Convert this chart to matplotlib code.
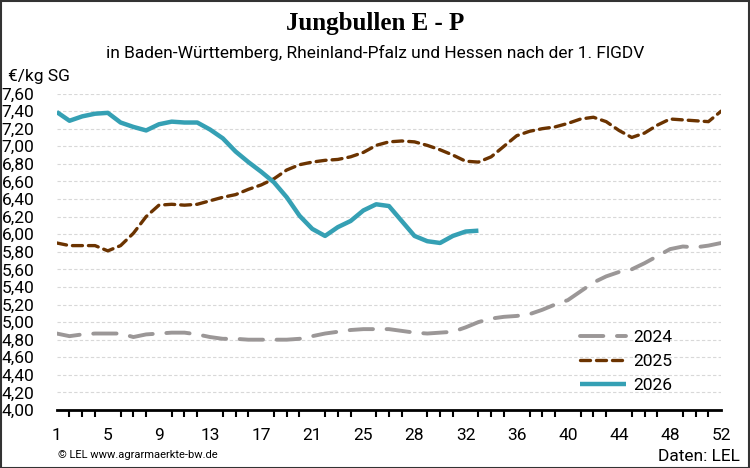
import numpy as np
import matplotlib.pyplot as plt
from matplotlib.patches import Rectangle

# Kalenderwochen 1..53
weeks = np.arange(1, 54)

preis_2024 = [4.87, 4.84, 4.86, 4.87, 4.87, 4.87, 4.83, 4.86, 4.87, 4.88,
              4.88, 4.86, 4.83, 4.81, 4.81, 4.80, 4.80, 4.80, 4.80, 4.81,
              4.84, 4.87, 4.89, 4.91, 4.92, 4.92, 4.92, 4.90, 4.88, 4.87,
              4.88, 4.89, 4.94, 5.00, 5.04, 5.06, 5.07, 5.09, 5.14, 5.20,
              5.25, 5.35, 5.45, 5.52, 5.57, 5.60, 5.67, 5.75, 5.83, 5.86,
              5.85, 5.87, 5.90]
preis_2025 = [5.90, 5.87, 5.87, 5.87, 5.81, 5.87, 6.01, 6.20, 6.33, 6.34,
              6.33, 6.34, 6.38, 6.42, 6.45, 6.51, 6.56, 6.63, 6.73, 6.79,
              6.82, 6.84, 6.85, 6.88, 6.93, 7.01, 7.05, 7.06, 7.05, 7.01,
              6.96, 6.90, 6.83, 6.82, 6.88, 7.00, 7.12, 7.17, 7.20, 7.22,
              7.26, 7.31, 7.33, 7.28, 7.18, 7.10, 7.15, 7.24, 7.31, 7.30,
              7.29, 7.28, 7.40]
preis_2026 = [7.39, 7.29, 7.34, 7.37, 7.38, 7.27, 7.22, 7.18, 7.25, 7.28,
              7.27, 7.27, 7.19, 7.09, 6.94, 6.82, 6.71, 6.59, 6.42, 6.21,
              6.06, 5.98, 6.08, 6.15, 6.27, 6.34, 6.32, 6.15, 5.98, 5.92,
              5.90, 5.98, 6.03, 6.04]

x_labels = ["1", "5", "9", "13", "17", "21", "25", "28", "32", "36", "40", "44", "48", "52"]
y_ticks = np.arange(4.0, 7.61, 0.2)

narrow = ['Liberation Sans Narrow', 'Roboto', 'DejaVu Sans']

fig = plt.figure(figsize=(7.5, 4.68), dpi=100)
ax = fig.add_axes([0.0756, 0.1239, 0.886, 0.6763])

ax.plot(weeks[:len(preis_2024)], preis_2024, color="#9b9797", linewidth=2.8,
        dashes=(6, 3.5), dash_capstyle='round', label="2024")
ax.plot(weeks[:len(preis_2025)], preis_2025, color="#6b3300", linewidth=2.4,
        dashes=(3, 1.8), dash_capstyle='round', label="2025")
ax.plot(weeks[:len(preis_2026)], preis_2026, color="#35a0b4", linewidth=3.2,
        solid_capstyle='butt', label="2026")

ax.set_xlim(1, 53)
ax.set_ylim(4.0, 7.6)

# Achsen
for s in ['top', 'right', 'left']:
    ax.spines[s].set_visible(False)
ax.spines['bottom'].set_linewidth(2)
ax.spines['bottom'].set_color('black')

ax.set_xticks(np.linspace(1, 53, len(x_labels)))
ax.set_xticklabels(x_labels, family=narrow, fontsize=12.5)
ax.set_xticks(weeks, minor=True)
ax.tick_params(axis='x', which='major', length=0, pad=13)
ax.tick_params(axis='x', which='minor', length=5, width=1.5, direction='out', color='black')

ax.set_yticks(y_ticks)
ax.set_yticklabels([f"{v:.2f}".replace(".", ",") for v in y_ticks], family=narrow, fontsize=12.5)
ax.tick_params(axis='y', length=0, pad=16)
ax.grid(axis='y', linestyle=(0, (3, 2)), color="#d8d8d8", linewidth=0.8)
ax.set_axisbelow(True)

leg = ax.legend(loc='lower right', bbox_to_anchor=(0.95, 0.005), frameon=False,
                handlelength=2.6, handletextpad=0.45, labelspacing=0.5,
                prop={'family': narrow, 'size': 12.5})

# Texte
fig.text(0.5, 0.95, "Jungbullen E - P", ha='center', va='center',
         family=['Liberation Serif', 'DejaVu Serif'], fontweight='bold', fontsize=18)
fig.text(0.5, 0.887, "in Baden-Württemberg, Rheinland-Pfalz und Hessen nach der 1. FlGDV",
         ha='center', va='center', family=narrow, fontsize=12.5)
fig.text(0.011, 0.837, "€/kg SG", ha='left', va='center', family=narrow, fontsize=12.5)
fig.text(0.078, 0.028, "© LEL www.agrarmaerkte-bw.de", ha='left', va='center',
         family=narrow, fontsize=8)
fig.text(0.987, 0.025, "Daten: LEL", ha='right', va='center', family=narrow, fontsize=12.5)

# Rahmen
fig.patches.append(Rectangle((0.001, 0.001), 0.998, 0.997, transform=fig.transFigure,
                             fill=False, edgecolor='#333333', linewidth=1.5))

fig.savefig("out.png", dpi=100)
